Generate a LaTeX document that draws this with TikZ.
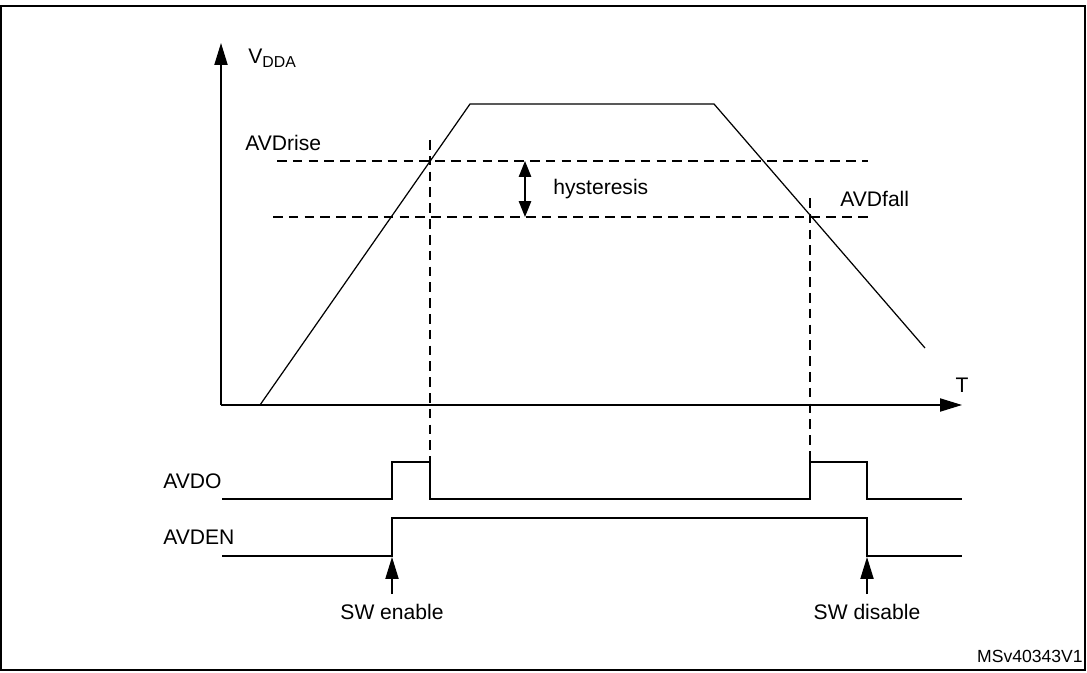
\documentclass[tikz,border=0pt]{standalone}
\usepackage{fontspec}
\setmainfont{Liberation Sans}
\usetikzlibrary{arrows.meta}
\begin{document}
\begin{tikzpicture}[x=0.02cm,y=-0.02cm,
  lbl/.style={inner sep=0pt,font=\fontsize{12}{14}\selectfont},
  ln/.style={line width=0.7pt},
  dsh/.style={line width=0.6pt,dash pattern=on 5.5pt off 3.5pt},
  ar/.style={-{Triangle[length=12.5pt,width=7.5pt]},line width=0.8pt},
  har/.style={-{Triangle[length=9pt,width=7pt]},line width=0.8pt},
  sig/.style={line width=0.8pt}]
\useasboundingbox (0,0) rectangle (1087,672);
\draw[line width=1.6pt] (1,6) -- (1085,6);
\draw[line width=0.8pt] (1,6) rectangle (1085,670);
% axes
\coordinate (O) at (221,405);
\coordinate (Ytip) at (221,43);
\coordinate (Xtip) at (962,405);
\draw[ar] (O) -- (Ytip);
\draw[ar] (O) -- (Xtip);
\node[lbl,anchor=west] (vdda) at (248,58) {V\textsubscript{\fontsize{9}{10}\selectfont DDA}};
\node[lbl] (T) at (962,385) {T};
% curve
\draw[ln] (260,405) -- (470,104) -- (714,104) -- (925,348);
% thresholds
\draw[dsh] (277,161) -- (868,161);
\draw[dsh] (273,217) -- (868,217);
\draw[dsh] (430,140) -- (430,462);
\draw[dsh] (810,198) -- (810,462);
\node[lbl,anchor=west] (rise) at (245,143) {AVDrise};
\node[lbl,anchor=west] (fall) at (840,199) {AVDfall};
% hysteresis
\coordinate (hm) at (525,189);
\coordinate (ht) at (525,161);
\coordinate (hb) at (525,217);
\draw[har] (hm) -- (ht);
\draw[har] (hm) -- (hb);
\node[lbl,anchor=west] (hyst) at (553,189) {hysteresis};
% AVDO
\node[lbl,anchor=west] (avdo) at (163,481) {AVDO};
\draw[sig] (222,499) -- (392,499) -- (392,462) -- (430,462) -- (430,499) -- (810,499) -- (810,462) -- (867,462) -- (867,499) -- (962,499);
% AVDEN
\node[lbl,anchor=west] (avden) at (163,537) {AVDEN};
\draw[sig] (222,556) -- (392,556) -- (392,518) -- (867,518) -- (867,556) -- (962,556);
% SW arrows
\node[lbl] (swe) at (392,612) {SW enable};
\node[lbl] (swd) at (867,612) {SW disable};
\draw[ar] (392,594) -- (392,557);
\draw[ar] (867,594) -- (867,557);
\node[lbl,anchor=east,font=\fontsize{10}{12}\selectfont] (id) at (1083,656) {MSv40343V1};
\end{tikzpicture}
\end{document}
